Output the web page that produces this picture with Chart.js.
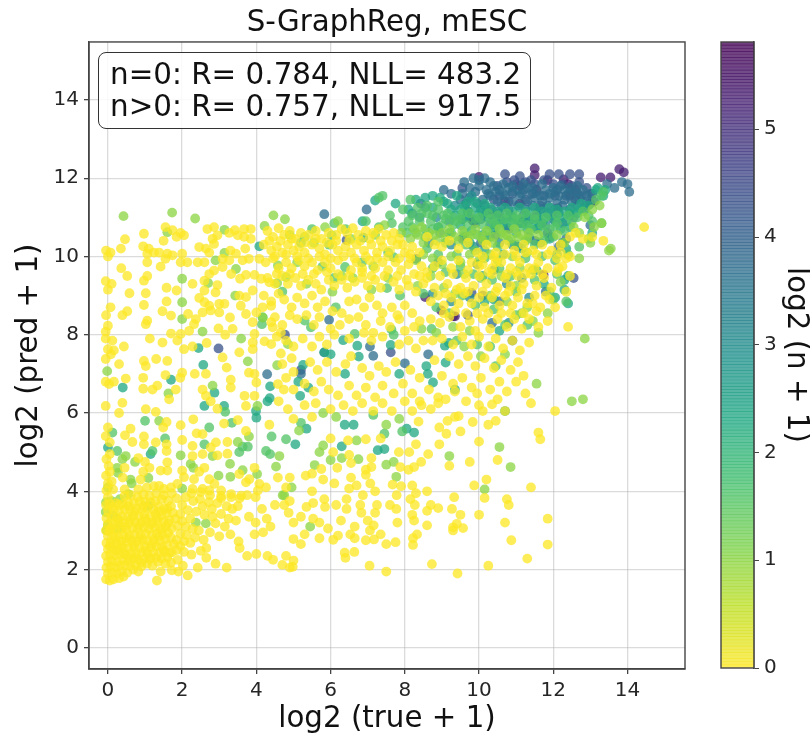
<!DOCTYPE html>
<html lang="en">
<head>
<meta charset="UTF-8">
<title>S-GraphReg, mESC</title>
<script src="https://cdn.jsdelivr.net/npm/chart.js"></script>
<style>
  body { margin: 0; background: #fff; }
  #wrap { position: relative; width: 810px; height: 734px; overflow: hidden; }
  #viz { position: absolute; left: 0; top: 0; }
  #bar { position: absolute; left: 690px; top: 0; }
  #stats {
    position: absolute; left: 98px; top: 52px; width: 433px; height: 77px; box-sizing: border-box;
    border: 1.4px solid #333; border-radius: 8px; background: rgba(255,255,255,.85);
    font: 29.4px/32px "DejaVu Sans", sans-serif; color: #111; padding: 5px 0 0 11px; white-space: nowrap;
  }
</style>
</head>
<body>
<div id="wrap">
  <canvas id="viz" width="690" height="734"></canvas>
  <canvas id="bar" width="120" height="734"></canvas>
  <div id="stats">n=0: R= 0.784, NLL= 483.2<br>n&gt;0: R= 0.757, NLL= 917.5</div>
</div>
<script>
const chartTitle = 'S-GraphReg, mESC'
const xLabel = 'log2 (true + 1)'
const yLabel = 'log2 (pred + 1)'
const barLabel = 'log2 (n + 1)'
const axisTicks = [0, 2, 4, 6, 8, 10, 12, 14]
const barTicks = [0, 1, 2, 3, 4, 5]
const barMax = 5.81

// x,y pairs, one list per colour level
const ptsN0 = [
-0.05,1.75,0.05,1.72,0.15,1.75,0.3,1.78,0.42,1.82,0,1.9,0.12,1.92,0.25,1.9,0.38,1.95,0.52,1.92,0.68,2,0.82,1.95,1.32,1.72,1.42,1.95,1.72,1.98,1.9,1.95,2.15,1.85,2.42,2.05,2.02,2.1,
-0.04,2.05,0.08,2.08,0.2,2.05,0.33,2.1,0.46,2.12,0.6,2.1,0.75,2.12,0.9,2.08,1.05,2.15,1.2,2.1,1.55,2.15,1.7,2.18,1.88,2.25,
0,2.2,0.12,2.22,0.26,2.2,0.4,2.25,0.55,2.22,0.68,2.28,0.82,2.25,0.98,2.28,1.12,2.26,1.3,2.3,1.45,2.28,1.6,2.32,
-0.05,2.35,0.06,2.38,0.18,2.36,0.32,2.4,0.47,2.38,0.62,2.42,0.76,2.4,0.92,2.44,1.06,2.4,1.22,2.44,1.38,2.42,1.52,2.46,1.72,2.44,1.85,2.5,2.05,2.45,2.25,2.38,
0,2.52,0.13,2.55,0.27,2.52,0.4,2.56,0.55,2.54,0.7,2.58,0.85,2.56,1,2.6,1.15,2.56,1.3,2.6,1.45,2.58,1.6,2.62,1.78,2.65,1.95,2.6,
-0.04,2.68,0.08,2.7,0.22,2.68,0.36,2.72,0.5,2.7,0.64,2.74,0.78,2.72,0.94,2.76,1.08,2.72,1.24,2.76,1.4,2.74,1.55,2.78,1.7,2.82,1.85,2.75,2.05,2.72,2.22,2.68,
0,2.85,0.14,2.86,0.28,2.84,0.42,2.88,0.58,2.86,0.72,2.9,0.88,2.88,1.02,2.92,1.18,2.88,1.32,2.92,1.48,2.9,1.62,2.94,1.95,2.92,2.12,2.88,2.35,2.82,2.58,2.76,
-0.05,3,0.08,3.02,0.2,3,0.36,3.04,0.5,3.02,0.66,3.06,0.8,3.04,0.96,3.08,1.1,3.04,1.26,3.08,1.4,3.06,1.56,3.1,1.72,3.05,1.88,3.12,2.1,3.1,2.28,3.04,2.45,3,2.75,2.95,3,2.85,
0,3.16,0.14,3.18,0.3,3.16,0.44,3.2,0.58,3.18,0.74,3.22,0.9,3.2,1.04,3.24,1.2,3.2,1.34,3.24,1.5,3.22,1.66,3.26,1.82,3.3,2,3.24,2.22,3.3,2.9,3.18,3.15,3.1,3.3,2.9,3.52,2.72,
-0.04,3.32,0.1,3.34,0.24,3.32,0.38,3.36,0.52,3.34,0.68,3.38,0.82,3.36,0.98,3.4,1.14,3.36,1.28,3.42,1.44,3.38,1.58,3.44,1.75,3.45,1.95,3.42,2.15,3.52,2.38,3.48,2.6,3.4,2.82,3.35,
0,3.5,0.16,3.52,0.3,3.5,0.46,3.54,0.6,3.52,0.76,3.56,0.92,3.54,1.06,3.58,1.22,3.54,1.36,3.6,1.52,3.56,1.7,3.62,2,3.65,2.55,3.62,2.8,3.55,3.05,3.42,3.25,3.3,3.45,3.25,
-0.05,3.65,0.04,3.68,0.22,3.7,0.4,3.68,0.54,3.72,0.7,3.7,0.86,3.74,1,3.72,1.28,3.75,1.45,3.8,1.62,3.76,1.85,3.82,2.1,3.85,2.3,3.75,2.48,3.8,2.72,3.72,2.95,3.7,3.2,3.62,
0,3.85,0.45,3.88,0.62,3.9,0.8,3.85,0.96,3.92,1.12,3.88,1.3,3.95,1.5,3.9,1.72,3.95,2.25,3.95,2.5,3.98,2.75,3.9,3.05,3.88,3.32,3.85,3.55,3.82,3.75,3.9,3.98,3.85,
-0.04,4.02,0.14,4.05,0.45,4.05,0.82,4.05,1.05,4.1,1.24,4.13,1.38,4.14,1.51,4.06,1.7,4.1,1.87,4.19,2.28,4.06,2.55,4.06,2.73,4.02,3.05,4.02,3.32,3.93,3.59,3.89,4.04,4.02,4.26,4.1,4.8,4.1,
0,4.2,0.1,4.25,-0.05,4.4,0.05,4.5,0.4,4.35,0.88,4.3,0.95,4.5,1.12,4.6,1.42,4.53,1.6,4.53,2,4.53,2.05,4.36,2.32,4.31,2.46,4.5,2.6,4.6,2.73,4.31,2.87,4.19,3.54,4.44,3.72,4.23,3.81,4.31,3.95,4.6,4.08,4.19,4.58,4.35,
0.02,4.65,-0.04,4.82,0.05,4.95,0.45,4.6,0.82,4.85,1,4.75,1.6,4.74,2.28,4.9,2.55,4.95,2.95,4.92,3.22,4.96,1.58,5.03,1.58,5.2,0.97,5.2,0.97,5.4,1.29,5.25,2,5.31,2.28,5.16,2.77,5.12,2.91,5.25,3.22,5.26,
-0.06,5.41,0,5.63,0.05,5.25,0.46,5.43,0.61,5.6,0.66,5.26,1.49,5.63,1.58,5.77,1.96,5.69,2.3,5.84,2.39,5.48,2.55,5.46,3.13,5.73,3.72,5.54,4.35,5.7,3.5,5.82,
-0.06,6.18,0.39,6.26,0.3,6,1.02,6.1,1.29,6.03,2.95,6.11,1.65,6.35,2.77,6.3,3.72,6.18,
3.05,3.82,3.35,3.55,3.5,3.62,3.8,3.35,3.98,3.2,4.15,3.55,4.28,3.3,4.5,3.65,4.75,3.65,4.38,3.1,4.18,2.95,3.95,2.9,3.55,2.55,3.75,2.35,4,2.4,4.3,2.35,4.45,2.25,4.7,2.12,4.9,2.05,3.2,2.05,2.9,2.15,2.65,2.3,2.5,2.48,2.65,2.55,
-0.06,6.8,0.03,6.74,0.16,6.8,0.48,6.88,0.97,7.33,1.02,7.2,1.3,7.38,1.6,7.33,1.13,7.9,1.47,7.8,0.95,6.9,0.95,6.62,1.2,6.6,1.33,6.7,1.55,6.97,2,7.03,1.95,6.9,1.83,6.6,1.87,7.85,2.05,7.63,2.28,7.7,2.66,7.79,3.09,7.42,3.2,7.16,2.34,7,2.64,7,3.31,6.85,3.31,6.65,2.55,6.6,2.64,6.44,3.68,6.44,3.54,7.55,3.9,7.8,3.9,7.63,4.22,7.83,4.4,7.76,4.66,7.52,3.95,7,3.8,7.03,4,6.78,3.95,6.44,4.74,6.6,4.58,6.74,
-0.06,7.9,0.12,7.85,0.43,7.7,0,7.63,0.16,7.6,0.08,7.5,-0.06,7.38,0.3,7.25,
-0.05,10.15,0.07,10.1,0,10,0.35,10.2,0.46,10.44,0.36,9.7,0.52,9.5,-0.06,9.37,0.1,9.3,0,9.15,0.58,9.06,0.07,8.7,-0.05,8.5,0.39,8.5,0.52,8.6,0,8.23,-0.06,8.08,
0.97,10.58,0.95,10.26,1.1,10.2,1.06,10.07,1.24,10.1,1.38,10.1,1.06,9.85,1.5,10.4,1.55,10.75,1.74,10.67,1.85,10.5,1.96,10.6,2.05,10.54,1.6,10.07,1.74,10.03,1.55,9.94,1.42,9.74,1.96,9.85,2.14,9.85,2,10.07,2.46,10.24,2.68,10.7,2.86,10.75,2.95,10.54,2.82,10.45,2.86,10.32,2.64,10.2,2.73,10.1,3.3,10.15,3.27,10.6,3.42,10.67,3.67,10.7,3.85,10.7,3.5,10.54,3.67,10.5,3.85,10.45,3.7,10.2,3.45,10.07,3.8,9.94,3.63,9.9,4.08,9.94,3.09,9.94,3.27,9.9,2.42,9.85,2.6,9.85,2.86,9.64,2.73,9.55,3.09,9.73,3.32,9.55,3.56,9.43,3.72,9.53,3.95,9.53,4.13,9.43,4.35,9.34,2.6,9.38,2.95,9.27,2.9,9.08,2.6,9.13,2.28,9.3,1.58,9.2,1.85,9.13,1.02,9.06,1.06,9.5,0.97,9.38,1.58,8.85,0.97,8.76,1.47,8.6,1.7,8.49,2.16,8.53,2.46,8.94,2.6,8.83,2.73,8.74,3,8.79,3.14,8.79,2.55,8.57,2.77,8.62,3,8.57,3.29,8.44,2.37,8.4,2.32,8.27,2.19,8.1,1.7,8.03,1.06,8.36,1.02,8.27,2.98,8.16,3.36,8.15,3.16,8,1.96,8.02,3.54,9,3.72,8.96,3.9,9.13,3.58,8.74,3.72,8.53,4,8.57,4.17,8.7,4.4,8.74,3.9,8.32,4.4,8.32,4.44,8.19,3.95,8.02,4.66,8.06,
4.3,10.65,4.45,10.5,4.6,10.72,4.75,10.55,4.9,10.65,5.05,10.45,5.2,10.6,5.4,10.55,5.6,10.65,5.75,10.45,5.95,10.6,6.15,10.55,6.3,10.7,6.45,10.6,6.6,10.72,6.75,10.55,6.95,10.65,7.15,10.6,7.3,10.7,7.5,10.55,7.7,10.6,7.85,10.45,
4.2,10.3,4.4,10.15,4.55,10.25,4.7,10.1,4.85,10.3,5,10.15,5.15,10.25,5.3,10.1,5.5,10.3,5.7,10.2,5.85,10.05,6.05,10.3,6.2,10.15,6.4,10.25,6.55,10.1,6.7,10.3,6.9,10.15,7.1,10.3,7.25,10.1,7.4,10.25,7.6,10.15,7.8,10.3,8,10.1,8.2,10.25,8.4,10.1,
4.25,9.85,4.45,9.95,4.6,9.7,4.8,9.85,4.95,9.7,5.15,9.9,5.3,9.75,5.5,9.85,5.65,9.65,5.85,9.85,6,9.7,6.2,9.9,6.55,9.65,6.7,9.85,6.85,9.7,7.05,9.9,7.2,9.7,7.4,9.85,7.55,9.65,7.75,9.85,7.9,9.65,8.1,9.8,8.25,9.55,8.45,9.75,8.6,9.6,
4.3,9.45,4.5,9.3,4.7,9.5,4.85,9.3,5.05,9.45,5.2,9.25,5.4,9.4,5.6,9.3,5.75,9.15,5.95,9.4,6.1,9.25,6.3,9.4,6.45,9.2,6.65,9.35,6.85,9.45,7,9.25,7.2,9.4,7.35,9.2,7.7,9.35,7.85,9.15,8.1,9.25,8.3,9.1,8.5,9.3,
4.2,9,4.4,8.85,4.6,9.05,4.75,8.9,4.95,8.7,5.1,8.95,5.3,8.8,5.5,9,5.65,8.7,5.85,8.85,6.05,8.6,6.3,8.55,6.5,8.85,6.7,8.9,6.9,8.7,7.05,8.95,7.25,8.75,7.4,8.55,7.65,8.7,7.8,8.5,8,8.75,8.2,8.55,8.4,8.35,
4.5,8.45,4.7,8.25,4.9,8.5,5.1,8.4,5.35,8.5,5.55,8.25,5.7,8.45,6,8.15,6.25,8.25,6.5,8.4,6.75,8.45,6.95,8.25,7.15,8.05,7.35,8.35,7.6,8.2,7.85,8.4,8,8.1,8.25,8.2,
4.55,7.95,4.8,7.85,5,7.7,5.25,7.9,5.5,7.7,5.7,7.95,5.9,7.75,6.1,8,6.5,7.9,6.9,8.05,7.1,7.85,7.4,7.95,7.85,7.75,8.1,7.85,8.3,7.65,8.5,7.85,
4.7,7.25,4.95,7.4,5,7.05,5.45,7.3,5.65,7.1,5.9,7.3,6.15,7.05,6.4,7.25,6.55,7.45,6.85,7.15,7.05,6.95,7.3,7.2,7.5,7.05,7.75,7.3,8.15,7.1,8.4,6.9,
4.8,6.9,5,6.6,5.3,6.75,5.55,6.55,5.75,6.8,5.95,6.6,6.2,6.45,6.5,6.7,6.7,6.45,6.95,6.65,7.2,6.4,7.4,6.7,7.7,6.5,7.95,6.75,8.2,6.5,8.4,6.3,8.65,6.6,8.9,6.4,
4.6,6.3,4.85,6.1,5,5.85,5.3,6.2,5.5,5.9,5.6,6.25,6,6.1,6.35,6.2,6.6,6.05,6.85,6.25,7.15,6.05,7.4,6.25,7.65,6.05,8,6.3,8.2,6.05,8.45,6.2,8.7,6.1,8.9,6.25,
6,5.35,6.47,5.3,6.95,5.33,7.35,5.35,8.3,5.2,8.93,5.2,10,5.27,11.65,5.33,11.6,5.5,9.5,5.53,9.12,5.47,8.93,5.63,8.37,5.78,9.15,5.8,9.35,5.9,9.45,5.92,9.83,5.77,10.25,5.7,10.45,5.8,12.05,6.05,11.4,6.25,10.35,6.22,10.1,6.05,10,6.2,10.7,6.05,
8.63,4.95,8.12,5,7.84,5,7.1,4.85,6.5,4.93,6.55,4.72,6.07,5,7.88,4.62,8.1,4.55,8.25,4.62,8.44,4.75,9.2,4.65,9.75,4.75,10.5,4.8,6.95,4.55,7.1,4.62,6.95,4.42,6.18,4.6,5.75,4.57,4.9,4.35,5.33,4.4,5.5,4.45,5.8,4.3,6.1,4.2,
9.42,1.9,8.73,2.14,11.3,2.28,11.85,2.64,10.87,2.75,8.22,2.63,8.22,2.8,8.33,2.9,7.75,2.7,7.5,2.65,7.17,2.77,6.95,2.75,7.35,2.9,6.64,2.45,6.38,2.43,6.4,2.3,8.6,3.13,9.3,3,9.3,3.08,9.4,3.17,9.57,3.06,10.7,3.2,11.85,3.3,10,3.4,9.5,3.4,9.27,3.55,8.9,3.57,8.7,3.65,8.6,3.5,8.25,3.25,8.2,3.4,8.27,3.65,8.15,3.8,7.8,3.2,7.77,3.55,7.6,3.65,7.2,3.45,7.25,3.65,6.8,3.65,6.83,3.45,7,3.25,7.16,3.13,7.06,3,6.65,3.1,6.53,2.9,6.65,2.8,6.2,2.87,6.07,2.76,5.7,2.8,5.3,2.9,5.2,2.65,5,2.78,5,2.23,4.8,2.35,4.98,2.07,
9.33,3.85,10.15,3.83,10.75,3.8,10.8,3.65,11.4,4.1,9.87,4.15,10.2,4.3,8.6,4,8.3,3.95,8.2,4.15,7.9,4.13,7.78,3.9,7.67,4.17,7.2,4,7.07,4.2,6.5,4.07,6.7,4.15,6.55,4.35,6.87,3.9,6.43,3.8,6.43,3.55,6.15,3.65,5.83,3.8,5.85,3.6,5.5,4,5.53,3.7,5.35,3.6,5.2,3.35,5.53,3.3,5.7,3.2,5.93,3.05,6.28,3.25,5,3.2,4.87,3.45,4.9,3.75,
8.6,9.45,8.8,9.2,8.95,9.5,9.15,9.3,9.3,9.55,9.5,9.2,9.65,9.45,9.85,9.25,10,9.5,10.2,9.3,10.35,9.55,10.5,9.2,10.7,9.45,10.85,9.25,11.05,9.5,11.2,9.3,11.4,9.55,11.55,9.25,11.75,9.45,11.95,9.2,
8.7,8.85,8.9,9,9.05,8.75,9.25,8.95,9.45,8.8,9.6,9.05,9.8,8.8,10,8.95,10.15,8.7,10.35,8.95,10.55,8.75,10.7,9,10.9,8.75,11.05,8.95,11.3,8.8,11.5,9,11.65,8.7,11.9,8.9,
8.7,8.4,8.95,8.3,9.2,8.45,9.5,8.2,9.75,8.35,9.9,8.1,10.1,8.4,10.3,8.15,10.5,8.4,10.75,8.2,10.95,8.4,11.15,8.15,11.35,8.4,11.6,8.2,11.85,8.35,
8.75,7.85,9,7.9,9.3,7.75,9.55,7.95,9.8,7.75,10,7.95,10.25,7.7,10.45,7.9,10.65,7.65,10.9,7.85,11.1,7.6,11.35,7.8,
8.8,7.35,9.2,7.45,9.45,7.25,9.7,7.45,9.9,7.2,10.15,7.4,10.4,7.15,10.6,7.35,10.85,7.1,11.05,7.3,11.2,6.95,
9,6.95,9.3,6.75,9.55,6.9,9.8,6.65,10.05,6.9,10.3,6.6,10.55,6.8,10.75,6.55,11,6.8,11.25,6.5,
9.1,6.35,9.35,6.55,9.65,6.3,9.95,6.5,10.5,6.35,
8.6,10.5,8.8,10.3,9,10.25,9.2,10.4,9.45,10.2,9.7,10.35,9.95,10.1,10.2,10.3,10.45,10.1,10.7,10.3,10.95,10.15,11.2,10.3,11.45,10.15,11.7,10.3,11.95,10.15,12.2,10.3,12.45,10.5,12.6,10.6,12.35,9.95,12.45,10,12.8,10.45,13.05,10.5,13.35,10.4,14.45,10.75,12.15,9.7,12.25,9.75,12.45,9.5,12.35,9.1,12.1,9.6,12.05,8.7,
9.8,9.85,10.1,9.8,10.35,9.7,10.6,9.85,10.85,9.7,11.1,9.85,11.35,9.7,11.6,9.85,11.85,9.7,
10.25,2.1,7.5,1.95,7.05,2.1,12.4,8.2,
4.35,10.4,4.65,10.4,4.95,10.45,5.3,10.35,5.6,10.45,5.9,10.35,6.15,10.4,6.5,10.4,6.8,10.4,7.05,10.45,7.35,10.4,7.65,10.4,7.95,10.3,8.15,10.05,
4.5,10,4.8,10.05,5.1,10,5.4,9.95,5.7,10,6,9.95,6.35,10,6.65,9.95,6.95,10,7.25,9.95,7.55,10,7.85,9.95,8.15,9.95,
4.55,9.55,4.9,9.55,5.25,9.55,5.55,9.55,5.9,9.6,6.2,9.55,6.5,9.5,6.85,9.6,7.1,9.5,7.45,9.5,7.8,9.5,8.05,9.4,8.4,9.5,
8.8,9.75,9,9.9,9.25,9.7,9.45,9.9,9.7,9.65,10,9.75,10.25,9.6,10.45,9.85,10.75,9.55,11,9.6,11.25,9.55,11.5,9.7,11.7,9.55,
10.1,10,10.4,10,10.7,10.05,11,10,11.25,10.1,11.55,10.05,11.85,10.05,12.1,9.95,12.2,10.1,
9.1,9.05,9.4,9.15,9.7,9.1,10.1,9.1,10.45,9.1,10.8,9.1,11.15,9.15,11.45,8.8,11.8,9,
9.05,8.55,9.35,8.6,9.65,8.55,9.95,8.55,10.25,8.55,10.6,8.55,10.85,8.55,11.2,8.55,11.55,8.6,
0.05,2.6,0.2,2.78,0.35,2.62,0.52,2.8,0.7,2.64,0.86,2.8,1.02,2.48,1.2,2.66,1.36,2.84,1.5,2.5,1.66,2.42,0.1,3.08,0.28,3.25,0.46,3.1,0.62,3.28,0.84,3.12,1,3.3,1.16,3.15,1.32,3.32,1.46,3.02,1.62,3.18,
0.03,2.98,0.22,2.48,0.42,2.42,0.56,2.32,0.75,2.32,0.9,2.18,1.15,2.3,1.35,2.2,0.12,3.6,0.3,3.65,0.55,3.62,0.72,3.48,0.95,3.62,1.15,3.72,1.38,3.48,1.6,3.55
]
const ptsN1 = [
0.42,11.03,1.73,11.12,2.35,10.97,4.46,11.05,4.77,10.95,4.22,10.78,1.6,10.62,3.14,10.68,3.14,10.09,2.9,9.9,3.45,9.68,2,9.43,2.7,9.32,4.58,9.77,4.56,9.32,4.8,9.47,3.43,9,2,8.83,2,8.4,4.17,8.44,2.55,8.08,3.59,7.9,4.85,7.76,3.77,7.32,4.56,7.22,-0.02,7.07,2.82,6.7,1.63,6.5,
1.38,5.8,0.48,4.9,0.39,4.82,0.73,4.75,0.25,4.6,0.27,4.47,0.61,4.3,0.64,4.2,1.09,4.34,0,4.1,0.55,3.93,0.32,3.8,-0.05,3.72,0.1,3.75,-0.06,3.47,0.14,3.38,0.27,3.28,0,3.14,-0.04,3,0.25,3.04,1.09,3.63,2.37,3.2,2.64,3.18,2,4.07,1.96,4.92,2.82,4.9,2.23,4.7,2.3,4.6,3.29,4.7,2.98,4.4,3.3,4.37,3.63,4.54,4.02,4.44,4.71,3.9,4.03,6.18,3.8,5.4,3.5,5.26,4.62,4.9,4.53,4.63,
9.2,4.9,10.55,5.13,10.85,4.62,10.15,4.05,5.45,3.1,4.95,4.1,4.75,3.9,6,4.8,5.57,4.67,5.7,5,5.8,5.17,6.3,4.85,6.75,4.82,7.5,4.68,7.7,4.75,7.77,4.37,5.15,5.55,5.8,6,6.15,5.9,6.7,5.3,7.85,5.85,7.5,5.7,
12.8,6.35,12.85,7.9,13.55,10.2,13.5,10.15,12.5,6.3,11.55,6.75,
4.9,10.55,5.3,10.5,5.55,10.35,5.85,10.75,6.2,10.9,6.55,10.45,7.2,10.55,7.45,10.8,7.9,10.6,5.1,9.85,6.6,9.45,6.3,9.5,7.15,9.75,7.55,9.45,7.1,9.15,6.05,9.1,5.35,9.3,
8.15,10.45,8.35,10.55,8.5,10.35,8.65,10.6,8.85,10.4,9,10.6,9.2,10.7,9.35,10.5,9.55,10.65,9.7,10.5,9.9,10.7,10.05,10.5,10.2,10.65,10.4,10.5,10.55,10.7,10.75,10.55,10.95,10.7,11.15,10.55,11.35,10.6,11.6,10.55,
8.3,9.9,8.5,10.05,8.75,9.95,9,9.8,9.25,10,9.5,9.85,9.75,10.05,10,9.9,10.3,10.05,10.5,9.9,10.9,10,11.1,9.7,11.3,10.1,
8.35,9.25,8.7,9.5,9.05,9.2,9.35,9.05,9.6,9.55,10.05,9.45,10.3,9,10.6,9.5,10.75,8.85,11,9.25,11.15,8.55,11.3,8.7,11.45,8.35,11.6,8.05,11.85,8.55,12.2,9.35,12.7,9.95,13,10.35,12.95,10.45,
8.45,8.15,8.85,8.05,9.3,8.2,9.6,7.7,9.75,8.1,10.05,7.45,10.7,7.5,
12.1,10.55,12.3,10.35,12.55,10.75,12.7,10.6,12.85,11,13.1,10.75,13.3,10.85,13.05,11.2,13.25,11.3,
8.25,10.7,8.45,10.75,8.8,10.55,9.1,10.45,9.45,10.4,9.8,10.55,10.1,10.4,10.35,10.35,10.65,10.55,10.85,10.45,11.05,10.5,11.3,10.45
]
const ptsN2 = [
1.54,5.35,2.6,5.2,1.2,5.03,3.16,6.03,4.41,5.4,3.63,5.14,3.77,5.14,3.54,5,4.37,4.95,4.26,5.03,
4.8,5.33,1,5.8,0.25,5.03,3.34,5.75,2.73,5.63,0.12,5.5,7.15,5.95,7.45,5.47,5.2,5.75,7.93,5.53,
4.17,8.44,4.15,8.27,5.96,10.3,6.03,10.54,5.78,9.74,7.7,9.98,6.39,9.73,7.52,9.19,7.87,9,6.14,8.7,5.3,8.36,5.47,8.19,6.65,8.02,7.64,8.13,7.7,8,8.72,8.15,
5.5,10.7,5.2,10.35,6.1,10.85,6.4,10.7,6.95,10.9,7.3,10.75,7.65,10.85,7.95,10.75,8.1,10.9,7.55,10.1,6.85,9.85,6.1,9.45,4.7,9.1,
8.2,10.75,8.4,10.9,8.55,10.7,8.7,10.9,8.9,10.75,9.1,10.95,9.3,10.8,9.5,10.95,9.7,10.8,9.9,10.95,10.1,10.8,10.3,10.95,10.5,10.8,10.7,10.95,10.9,10.8,11.1,10.95,11.3,10.8,11.5,10.95,11.7,10.8,11.9,10.7,12.1,10.85,12.3,10.65,12.5,10.9,
8.6,10.2,8.9,10.05,9.1,10.35,9.4,10.05,9.65,10.3,9.9,10.15,10.2,10.4,10.5,10.25,10.8,10.4,11,10.3,11.25,10.4,11.5,10.3,11.75,10.4,12,10.5,
8.75,9.7,9.1,9.6,9.5,9.75,9.85,9.55,10.15,9.95,10.35,9.4,10.55,9.7,10.85,9.5,11,9.1,11.25,9.95,11.45,9.65,11.7,10,
8.5,9.05,8.85,8.7,9.2,8.55,9.55,9,9.9,8.75,10.4,8.65,10.7,8.25,11,8.5,11.3,8.25,9.4,7.85,9.95,7.75,10.45,7.2,10.3,7.7,
11.5,9.4,11.9,9.1,12,8.9,12.05,9.9,12.1,9.55,12.35,8.85,12.4,10.05,12.7,10.25,13.3,10.85,13.05,10.9,
7.6,11.05,7.95,11.2,8.2,11.05,8.35,11.25,8.6,11.1,8.9,11.2,9.15,11.1,7.3,11.5,7.4,11.55,8.15,11.45,8.6,11.3,8.9,11.4,
12.65,11,12.8,11.15,12.95,11.05,13.15,11.45,13.35,11.65,13.3,11.55,
9.05,11.05,9.3,11,9.55,11.1,9.75,11.1,10,11,10.25,11.1,10.5,11.05,10.75,11.1,11,11.05,11.25,11.1,11.5,11.05,11.8,11,12.1,11.05,12.4,11.05,
8.3,10.6,8.55,10.5,8.75,10.7,9,10.8,9.25,10.6,9.6,10.6,9.95,10.55,10.25,10.65,10.6,10.6,11.1,10.75,11.4,10.7,11.75,10.6,12.05,10.75,8.05,10.6,8.45,11.1,8.75,11.05,9.4,10.9,10.4,10.85,10.95,10.95
]
const ptsN3 = [
4.08,10.26,2.44,7.66,2.57,7.23,1.7,6.85,0.4,6.65,2.87,6.52,4.37,6.68,4.36,6.38,0,5.12,1.15,4.95,4,5.88,3.99,6.05,2.6,6.18,3.13,6.18,4.3,6.3,
5.05,5.2,6.3,5.15,7.27,5.05,7.45,5.08,6.38,5.7,6.62,5.7,8.25,5.5,8.05,5.6,5.35,5.6,10.7,6.05,
6.86,10.9,6.88,10.48,7.2,11.43,6.34,7.86,6.72,7.72,7.62,7.74,9.19,7.79,9.08,7.72,6.39,7,6.76,7.44,7.85,7,8.58,7.2,8.62,7,9.1,7.29,8.76,6.78,9.35,6.6,5.4,6.65,5.13,6.8,5.18,6.44,5.26,7.23,6,7.5,5.83,7.55,
8.1,11.2,8.3,11.45,7.75,11.35,8.55,11.5,8.75,11.55,8.95,11.5,9.15,11.35,9.4,11.55,9.6,11.3,9.25,11.2,9.5,11.2,
9.7,11.15,9.9,11.25,10.1,11.15,10.3,11.25,10.5,11.15,10.7,11.25,10.9,11.15,11.1,11.25,11.3,11.15,11.5,11.25,11.7,11.15,11.9,11.25,12.1,11.2,12.3,11.15,12.5,11.25,12.7,11.2,
8.9,10.75,9.2,10.6,9.5,10.8,9.8,10.65,10.1,10.55,10.4,10.7,10.65,10.85,11,10.6,11.3,10.7,11.6,10.75,11.9,10.45,12.2,10.7,12.1,10.05,
9.75,10.35,10.15,10.15,10.65,10.05,11.15,10.2,11.55,9.65,11.75,9.3,12.05,8.95,12.35,10.2,12.3,9.15,12.45,10.75,
10.1,9.5,10.4,8.9,10.55,8.1,10.15,8.85,12.4,9.5,12.3,9.4,12.4,8.8,13.05,10.6,13.35,11.55,13.15,11.7,13.4,11.7,13.2,11.75,
9.35,11.05,9.65,11,9.95,11.05,10.2,11,10.45,10.95,10.75,11,11,10.95,11.3,11,11.6,10.95,11.9,11.05,12.2,11,12.45,11.1,12.65,11.1,9.05,11.4,8.75,11.25,9.7,11.4,9.9,11.4,10.15,11.35,10.45,10.8,10.9,10.85,11.2,10.85,11.45,10.85,11.75,10.95,12.05,10.9,12.35,10.9,12.75,11.35,12.95,11.3
]
const ptsN35 = [
8.65,10.35,8.95,10.6,9.25,10.3,9.6,10.5,9.85,10.25,10.3,10.5,10.55,10.35,10.9,10.3,11.35,10.5,11.65,10.35,12.25,10.35,
8.4,11,8.85,11,9.2,10.9,9.55,10.95,9.9,10.85,10.3,10.8,10.75,10.75,11.15,10.85,11.55,10.7,11.8,10.8,
8.9,9.85,9.4,9.55,9.95,9.8,10.4,9.65,10.75,9.3,11.15,9.45,11.35,8.95,8.75,9.05,9.25,8.85,9.75,8.95,10.8,8.3,
8.2,11.1,8.55,11.25,9.35,11.3,9.8,11.55,10.05,11.2
]
const ptsN4 = [
5.83,11.08,6.97,11.2,8.43,11.35,5.96,8.38,8.31,9.94,7.06,7.7,7.15,7.46,8.63,7.5,8,7.27,5.83,7.55,5.2,7,4.29,6.99,
9.05,11.7,9.25,11.6,9.55,11.6,9.75,11.5,9.65,11.35,9.9,11.65,10.1,11.45,10.3,11.55,10.5,11.4,10.7,11.55,10.9,11.4,11.1,11.55,11.3,11.4,11.5,11.5,11.7,11.4,11.9,11.5,12.1,11.35,12.3,11.45,12.5,11.4,12.7,11.5,12.9,11.4,
10,11.8,10.3,11.9,10.2,11.7,10.55,11.7,10.8,11.75,11.05,11.7,11.3,11.75,11.55,11.65,11.8,11.7,12.05,11.65,12.3,11.7,12.55,11.65,12.8,11.7,13,11.6,
10.05,10.95,10.35,11.05,10.6,10.95,10.85,11,11.1,10.85,11.4,10.95,11.7,10.85,12,10.95,12.25,10.85,12.55,11,12.85,11.3,
9.8,10.95,9.55,10.45,10.05,10.35,10.45,10.55,10.8,10.7,11.5,10.4,12.15,10.25,12.35,10.45,
11.8,9.1,10.9,7.85,10.55,8.85,10.35,8.3,13,10.8,13.45,11.85,13.65,11.75,13.85,11.9,14,11.85,14.05,11.65,
9.85,12,10,11.95,10.15,12,9.75,11.75,9.6,11.9,
10.15,11.3,10.35,11.2,10.6,11.3,10.8,11.2,11.05,11.3,11.25,11.2,11.45,11.3,11.65,11.2,11.85,11.3,12.05,11.2,12.25,11.3,12.45,11.2,12.65,11.3,12.85,11.2,
10.25,11.6,10.45,11.65,10.65,11.6,10.9,11.65,11.15,11.6,11.4,11.6,11.65,11.55,11.9,11.6,12.15,11.55,12.4,11.6,12.65,11.6,12.9,11.55,
10.4,11.8,10.65,11.85,10.9,11.8,11.2,11.85,11.45,11.75,11.7,11.85,12,11.75,12.2,11.8,12.45,11.75,12.65,11.8,
9.5,11.45,9.95,11.35,10.2,11.1,10.55,11.1,10.85,11.05,11.2,11.05,11.55,11.1,11.85,11.1,12.15,11.1,12.45,11.05
]
const ptsN5 = [
7.62,7.55,5.2,7.1,2.98,7.65,4.77,8,9.8,9.07,9.7,8.5,9.88,10.92,6.43,10.42,
10.5,11.8,10.75,11.9,11,11.85,11.25,11.9,11.5,11.85,11.75,11.95,12,11.85,12.25,11.85,12.5,11.8,12.7,11.9,12.9,11.75,13.05,11.6,13.1,11.4,
10.4,11.45,10.8,11.4,11.25,11.45,11.65,11.3,12.05,11.55,12.45,11.55,12.75,11.55,13,11.35,
10.7,12.1,11.1,12.05,11.9,12.1,12.15,12.1,12.45,12.1,12.7,12.1,11.2,10.9,11.55,11,11.85,10.6,
11.9,10.5,11.05,10.25,10.1,9,9.7,11.15,9.55,11.75,12.55,9.45,
10.9,11.6,11.2,11.7,11.45,11.6,11.75,11.55,12.1,11.7,12.35,11.55,12.6,11.45,10.55,11.55,10.95,11.95,11.4,11.95
]
const ptsN6 = [
8.55,8.96,8.98,8.62,9.35,8.47,10.7,11.4,12.28,11.97,13.54,12.02,12.12,11.23,11.5,12.25,13.78,12.23,13.28,12.02,11.5,12.08,10,12.03,9.85,10.9,11.74,9.53,9.3,8.47,
11.1,11.8,11.55,11.7,12.4,11.85,12.6,11.7,11.85,11.95,11.1,11.35,13.9,12.15
]
const colorLevels = [0, 1, 1.58, 2.32, 3, 3.7, 4.3, 5.3]
const pointLists = [ptsN0, ptsN1, ptsN2, ptsN3, ptsN35, ptsN4, ptsN5, ptsN6]

const viridisStops = ['#440154', '#482475', '#414487', '#355f8d', '#2a788e', '#21918c', '#22a884', '#44bf70', '#7ad151', '#bddf26', '#fde725']

const levelColor = (v, alpha) => {
  const t = (1 - v / barMax) * 10
  const i = Math.min(9, Math.floor(t))
  const a = viridisStops[i], b = viridisStops[i + 1]
  const mix = k => {
    const p = parseInt(a.substr(k, 2), 16), q = parseInt(b.substr(k, 2), 16)
    return Math.round(p + (q - p) * (t - i))
  }
  return `rgba(${mix(1)},${mix(3)},${mix(5)},${alpha})`
}

const toPoints = flat => {
  const out = []
  for (let i = 0; i < flat.length; i += 2) out.push({ x: flat[i], y: flat[i + 1] })
  return out
}

Chart.defaults.font.family = '"DejaVu Sans", sans-serif'
Chart.defaults.color = '#262626'
Chart.defaults.animation = false

const fixedTicks = list => scale => { scale.ticks = list.map(v => ({ value: v })) }

const axisOpts = (text, min, max, fit, titlePad) => ({
  type: 'linear',
  min,
  max,
  afterBuildTicks: fixedTicks(axisTicks),
  afterFit: fit,
  title: { display: true, text, font: { size: 29.3 }, color: '#111', padding: titlePad },
  ticks: { font: { size: 20 }, maxRotation: 0, autoSkip: false, padding: 5 },
  grid: { color: 'rgba(176,176,176,.45)', lineWidth: 1.3, tickColor: '#444', tickLength: 5 },
  border: { color: '#444', width: 1.4 }
})

const frame = {
  id: 'frame',
  afterDatasetsDraw(c) {
    const a = c.chartArea
    c.ctx.save()
    c.ctx.strokeStyle = '#444'
    c.ctx.lineWidth = 1.4
    c.ctx.strokeRect(a.left, a.top, a.right - a.left, a.bottom - a.top)
    c.ctx.restore()
  }
}

new Chart(document.getElementById('viz'), {
  type: 'scatter',
  data: {
    datasets: pointLists.map((list, i) => ({
      data: toPoints(list),
      backgroundColor: levelColor(colorLevels[i], 0.76),
      borderWidth: 0,
      pointRadius: 4.9,
      pointHoverRadius: 4.9
    }))
  },
  options: {
    responsive: false,
    layout: { padding: { right: 5 } },
    plugins: {
      legend: { display: false },
      tooltip: { enabled: false },
      title: { display: true, fullSize: false, text: chartTitle, font: { size: 29.3, weight: 'normal' }, color: '#111', padding: { top: 6, bottom: 0.8 } }
    },
    scales: {
      x: axisOpts(xLabel, -0.51, 15.55, s => { s.height = 65 }, { top: 0, bottom: -3 }),
      y: axisOpts(yLabel, -0.54, 15.48, s => { s.width = 89 }, { top: 12, bottom: 0 })
    }
  },
  plugins: [frame]
})

// colorbar: thin translucent bands stacked up the axis
const bandCount = 200
const bandSize = barMax / bandCount
const bandSets = []
for (let i = 0; i < bandCount; i++) {
  bandSets.push({
    data: [bandSize],
    backgroundColor: levelColor((i + 0.5) * bandSize, 0.76),
    borderWidth: 0,
    barPercentage: 1,
    categoryPercentage: 1,
    stack: 'c'
  })
}

new Chart(document.getElementById('bar'), {
  type: 'bar',
  data: { labels: ['n'], datasets: bandSets },
  options: {
    responsive: false,
    layout: { padding: { left: 31, top: 42, bottom: 66 } },
    plugins: { legend: { display: false }, tooltip: { enabled: false } },
    scales: {
      x: { stacked: true, display: false },
      y: {
        stacked: true,
        position: 'right',
        min: 0,
        max: barMax,
        afterBuildTicks: fixedTicks(barTicks),
        afterFit: s => { s.width = 56 },
        title: { display: true, text: barLabel, font: { size: 29.3 }, color: '#111', padding: { top: -3, bottom: 0 } },
        ticks: { font: { size: 20 }, padding: 5 },
        grid: { display: true, drawOnChartArea: false, tickColor: '#444', tickLength: 5 },
        border: { color: '#444', width: 1.4 }
      }
    }
  },
  plugins: [frame]
})
</script>
</body>
</html>
